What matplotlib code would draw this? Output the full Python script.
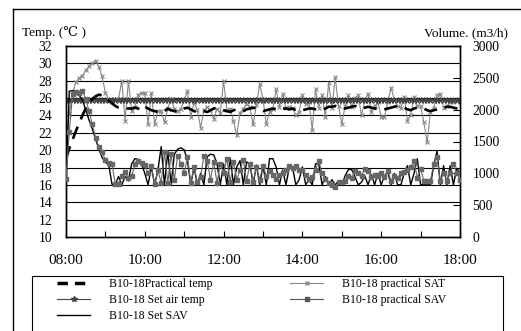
import numpy as np
import matplotlib
matplotlib.use('Agg')
import matplotlib.pyplot as plt
from matplotlib.lines import Line2D

# time axis: 08:00 - 18:00 every 5 minutes (hours as decimals)
times = 8 + np.arange(121) * 5 / 60.0
hour_ticks = np.arange(8, 19)
hour_labels = ['08:00', '', '10:00', '', '12:00', '', '14:00', '', '16:00', '', '18:00']

# B10-18Practical temp (deg C)
practical_temp = [
    19.0, 20.2, 21.2, 22.2, 23.1, 24.0, 24.8, 25.4, 25.9, 26.2, 26.4, 26.3,
    26.0, 25.7, 25.4, 25.1, 24.9, 24.8, 24.8, 24.8, 24.8, 24.9, 24.8, 24.6,
    25.0, 24.8, 24.6, 24.5, 24.4, 24.3, 24.5, 24.8, 24.6, 24.5, 24.4, 24.6,
    24.8, 24.9, 24.7, 24.5, 24.4, 24.5, 24.5, 24.4, 24.6, 24.8, 24.9, 24.8,
    24.6, 24.5, 24.4, 24.6, 24.7, 24.6, 24.5, 24.7, 24.8, 24.9, 24.8, 24.7,
    24.5, 24.6, 24.7, 24.8, 24.7, 24.6, 24.8, 24.8, 24.7, 24.8, 24.6, 24.5,
    24.6, 24.7, 24.8, 24.8, 24.7, 24.6, 24.7, 24.8, 25.0, 25.0, 25.1, 24.9,
    24.8, 24.8, 24.9, 25.0, 25.1, 24.9, 24.8, 24.9, 25.0, 24.9, 24.8, 24.7,
    24.6, 24.7, 24.8, 24.9, 25.0, 25.1, 25.0, 24.9, 24.7, 24.6, 24.8, 24.9,
    24.9, 24.8, 24.6, 24.5, 24.6, 24.7, 24.9, 24.9, 25.0, 25.0, 24.9, 24.8,
    24.6]

# B10-18 Set air temp (deg C), constant set point
set_air_temp = [25.8] * len(times)

# B10-18 practical SAT (deg C)
practical_sat = [
    21.7, 24.2, 26.5, 27.8, 28.3, 28.6, 29.2, 29.7, 30.0, 30.3, 29.6, 28.5,
    26.6, 25.8, 25.6, 25.9, 25.9, 28.0, 23.4, 28.0, 24.5, 25.0, 26.4, 26.6,
    26.6, 23.0, 26.6, 23.0, 24.5, 24.5, 23.2, 24.8, 25.9, 24.8, 24.5, 24.8,
    25.8, 26.8, 23.8, 25.5, 24.6, 22.6, 24.6, 25.0, 24.6, 23.6, 24.8, 24.3,
    28.0, 24.6, 24.8, 23.4, 21.7, 24.3, 24.8, 25.3, 25.0, 23.0, 25.2, 27.6,
    25.9, 23.0, 24.4, 24.8, 27.0, 25.0, 26.5, 24.9, 25.0, 24.9, 24.0, 24.4,
    26.3, 25.3, 25.5, 22.3, 27.0, 24.9, 26.3, 23.8, 27.7, 24.9, 28.4, 25.1,
    23.0, 25.1, 26.3, 25.0, 26.0, 26.3, 24.0, 25.7, 26.5, 24.4, 25.1, 25.5,
    23.8, 23.8, 25.5, 27.2, 25.8, 25.1, 24.9, 26.1, 23.4, 24.1, 26.1, 25.1,
    25.1, 23.2, 20.9, 24.4, 24.9, 26.3, 26.5, 24.9, 25.1, 25.5, 25.5, 25.7,
    25.5]

# B10-18 Set SAV (m3/h)
set_sav = [
    780, 2290, 2300, 2280, 2230, 2150, 2000, 1840, 1700, 1540, 1380, 1250,
    1170, 1140, 830, 820, 950, 820, 950, 880, 1150, 1230, 1220, 1150,
    1000, 820, 1100, 820, 1050, 1420, 820, 1350, 820, 1300, 1380, 1400,
    1370, 1200, 820, 1100, 820, 1000, 820, 1260, 1300, 1290, 1150, 820,
    1150, 820, 1240, 820, 1100, 1200, 820, 1180, 1150, 820, 1130, 820,
    1120, 820, 1230, 1230, 1100, 820, 1050, 820, 1090, 1090, 820, 900,
    1100, 820, 900, 820, 1150, 1150, 820, 950, 820, 900, 820, 880,
    820, 960, 1060, 1060, 950, 820, 860, 960, 820, 980, 820, 1000,
    820, 960, 1020, 820, 1000, 820, 820, 1000, 1120, 820, 1000, 1230,
    820, 820, 820, 820, 1120, 1350, 820, 1120, 820, 1120, 820, 1080,
    1000]

# B10-18 practical SAV (m3/h)
practical_sav = [
    914, 1650, 2250, 2280, 2265, 2300, 2170, 1980, 1770, 1560, 1420, 1330,
    1210, 1160, 1140, 840, 830, 960, 1020, 930, 960, 1140, 1190, 1170,
    1130, 1000, 1110, 830, 1050, 850, 1330, 850, 1300, 900, 1280, 1150,
    1000, 1250, 850, 1100, 860, 950, 1280, 1200, 900, 1180, 850, 1150,
    1000, 1230, 860, 1180, 900, 1050, 1210, 880, 1150, 870, 1100, 900,
    1120, 960, 1040, 970, 910, 980, 1010, 1050, 1120, 1080, 1120, 1050,
    1050, 980, 910, 950, 1060, 1200, 1000, 910, 850, 810, 790, 860,
    860, 880, 960, 930, 1040, 1000, 960, 1070, 1040, 950, 980, 960,
    1010, 950, 1040, 880, 960, 930, 1000, 1020, 1050, 1100, 1190, 930,
    1070, 880, 880, 880, 1150, 1250, 880, 1010, 880, 1000, 1140, 1010,
    890]

W, H = 521, 331
serif = ['Liberation Serif', 'DejaVu Serif', 'DejaVu Sans']
plt.rcParams['font.family'] = serif

fig = plt.figure(figsize=(W / 100, H / 100), dpi=100)
ax1 = fig.add_axes([66 / W, 1 - 237 / H, (460 - 66) / W, (237 - 46) / H])
ax2 = ax1.twinx()

# temperature side
ax1.set_ylim(10, 32)
ax1.set_yticks(np.arange(10, 33, 2))
for yv in np.arange(12, 32, 2):
    ax1.axhline(yv, color='black', lw=0.8, zorder=0)
ax1.plot(times, practical_sat, color='#888888', lw=0.8, marker='x',
         markersize=3.5, markeredgewidth=0.8, zorder=2)
ax1.plot(times, set_air_temp, color='#444444', lw=1.0, marker='*',
         markersize=5, markeredgewidth=0.6, zorder=3)
ax1.plot(times, practical_temp, color='black', lw=1.9, dashes=(5, 3), zorder=4)

# volume side
ax2.set_ylim(0, 3000)
ax2.set_yticks(np.arange(0, 3001, 500))
ax2.plot(times, set_sav, color='black', lw=1.0, zorder=2)
ax2.plot(times, practical_sav, color='#666666', lw=0.8, marker='s',
         markersize=2.8, zorder=3)

ax1.set_xlim(8, 18)
ax1.set_xticks(hour_ticks)
ax1.set_xticklabels(hour_labels)

ax1.tick_params(axis='x', direction='in', length=4, pad=12, labelsize=11)
ax1.tick_params(axis='y', direction='in', length=0, pad=10, labelsize=9.8)
ax2.tick_params(axis='y', direction='in', length=5, pad=9, labelsize=9.8)
for a in (ax1, ax2):
    for s in a.spines.values():
        s.set_linewidth(1.0)

fig.text(22 / W, 1 - 33 / H, 'Temp. (℃ )', fontsize=9.5, va='center', ha='left',
         family=serif)
fig.text(508 / W, 1 - 33 / H, 'Volume. (m3/h)', fontsize=9.5, va='center', ha='right',
         family=serif)

# outer frame and legend box
def px_line(xs, ys, lw=1.0):
    fig.add_artist(Line2D([x / W for x in xs], [1 - y / H for y in ys],
                          transform=fig.transFigure, color='black', lw=lw))

px_line([13, 13], [9, H + 5])
px_line([13, W + 5], [9, 9])
px_line([32, 32, 503, 503], [H + 5, 276, 276, H + 5], lw=0.8)

handles = [
    Line2D([], [], color='black', lw=2.5, dashes=(3, 2)),
    Line2D([], [], color='#444444', lw=0.8, marker='*', markersize=4),
    Line2D([], [], color='black', lw=1.0),
    Line2D([], [], color='#888888', lw=0.8, marker='x', markersize=3),
    Line2D([], [], color='#555555', lw=0.8, marker='s', markersize=3),
]
labels = ['B10-18Practical temp', 'B10-18 Set air temp', 'B10-18 Set SAV',
          'B10-18 practical SAT', 'B10-18 practical SAV']
fig.legend(handles, labels, loc='upper left', bbox_to_anchor=(57 / W, 1 - 278 / H),
           ncol=2, frameon=False, fontsize=8.5, handlelength=2.8, handletextpad=1.6,
           columnspacing=6.6, borderpad=0, borderaxespad=0, labelspacing=0.35)

plt.savefig('out.png', dpi=100)
